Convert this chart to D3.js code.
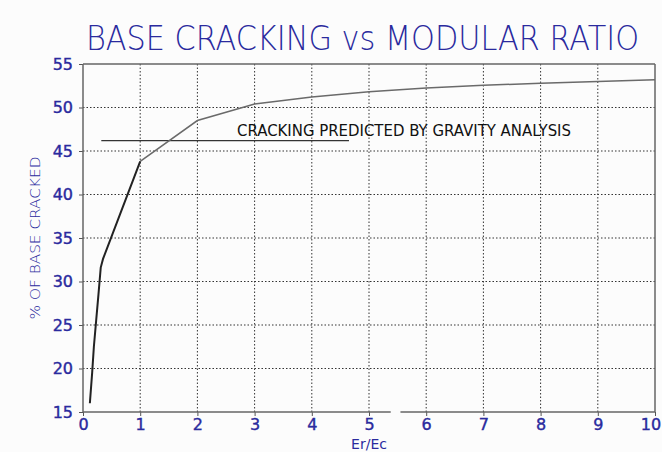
<!DOCTYPE html>
<html lang="en">
<head>
<meta charset="UTF-8">
<title>Base Cracking vs Modular Ratio</title>
<script src="https://cdn.jsdelivr.net/npm/d3@7"></script>
<style>
  body { margin: 0; background: #fcfcfc; }
  text { font-family: "DejaVu Sans", sans-serif; }
</style>
</head>
<body>
<div id="chart"></div>
<script>
// data
var ratioSteep = [0.12, 0.16, 0.19, 0.23, 0.27, 0.31, 0.35, 1.0];
var crackSteep = [16.0, 19.5, 22.5, 25.5, 28.5, 31.6, 32.6, 43.8];
var ratioFlat = [1, 2, 3, 4, 5, 6, 7, 8, 9, 10];
var crackFlat = [43.8, 48.5, 50.4, 51.2, 51.8, 52.25, 52.55, 52.8, 53.0, 53.2];
var xTicks = [0, 1, 2, 3, 4, 5, 6, 7, 8, 9, 10];
var yTicks = [15, 20, 25, 30, 35, 40, 45, 50, 55];
var gravityLevel = 46.2;
var gravityFrom = 0.32, gravityTo = 4.65;
var gravityLabel = "CRACKING PREDICTED BY GRAVITY ANALYSIS";

var width = 662, height = 452;
var margin = {top: 64, right: 7, bottom: 40, left: 83};
var blue = "#2a2a9e";

var svg = d3.select("#chart").append("svg")
    .attr("width", width)
    .attr("height", height);

var x = d3.scaleLinear().domain([0, 10]).range([margin.left, width - margin.right]);
var y = d3.scaleLinear().domain([15, 55]).range([height - margin.bottom, margin.top]);

// title (tall, narrow lettering)
svg.append("text")
    .attr("transform", "translate(86,50) scale(1,1.18)")
    .attr("textLength", 553)
    .attr("lengthAdjust", "spacingAndGlyphs")
    .style("font-size", "28px")
    .style("font-weight", "200")
    .style("fill", blue)
    .text("BASE CRACKING vs MODULAR RATIO");

// dotted grid
svg.append("g").selectAll("line")
    .data(xTicks.slice(1, -1)).enter().append("line")
    .attr("x1", function(d){ return x(d); }).attr("x2", function(d){ return x(d); })
    .attr("y1", y(55)).attr("y2", y(15))
    .attr("stroke", "#333").attr("stroke-width", 1).attr("stroke-dasharray", "1.5,2");
svg.append("g").selectAll("line")
    .data(yTicks.slice(1, -1)).enter().append("line")
    .attr("x1", x(0)).attr("x2", x(10))
    .attr("y1", function(d){ return y(d); }).attr("y2", function(d){ return y(d); })
    .attr("stroke", "#333").attr("stroke-width", 1).attr("stroke-dasharray", "1.5,2");

// axes
var xAxis = svg.append("g")
    .attr("transform", "translate(0," + y(15) + ")")
    .call(d3.axisBottom(x).tickValues(xTicks).tickSize(4).tickPadding(3).tickFormat(d3.format("d")));
var yAxis = svg.append("g")
    .attr("transform", "translate(" + x(0) + ",0)")
    .call(d3.axisLeft(y).tickValues(yTicks).tickSize(4).tickPadding(6));
[xAxis, yAxis].forEach(function(a) {
    a.select(".domain").remove();
    a.selectAll(".tick line").attr("stroke", "#555");
    a.selectAll(".tick text")
        .style("fill", blue).style("stroke", blue).style("stroke-width", 0.4)
        .style("font-size", "16px").style("font-family", "DejaVu Sans, sans-serif");
});
// keep the last label inside the window
xAxis.selectAll(".tick text").filter(function(d){ return d === 10; })
    .attr("text-anchor", "end").attr("dx", "0.35em");

// frame, bottom edge has a small gap like the original
var frame = svg.append("g").attr("stroke", "#666").attr("stroke-width", 1.5).attr("fill", "none");
frame.append("line").attr("x1", x(0)).attr("x2", x(10)).attr("y1", y(55)).attr("y2", y(55));
frame.append("line").attr("x1", x(0)).attr("x2", x(0)).attr("y1", y(55)).attr("y2", y(15));
frame.append("line").attr("x1", x(10)).attr("x2", x(10)).attr("y1", y(55)).attr("y2", y(15));
frame.append("line").attr("x1", x(0)).attr("x2", x(5.38)).attr("y1", y(15)).attr("y2", y(15));
frame.append("line").attr("x1", x(5.55)).attr("x2", x(10)).attr("y1", y(15)).attr("y2", y(15));

// gravity analysis line and label
svg.append("line")
    .attr("x1", x(gravityFrom)).attr("x2", x(gravityTo))
    .attr("y1", y(gravityLevel)).attr("y2", y(gravityLevel))
    .attr("stroke", "#333").attr("stroke-width", 1.3);
svg.append("text")
    .attr("x", 237).attr("y", 136)
    .attr("textLength", 334)
    .attr("lengthAdjust", "spacingAndGlyphs")
    .style("font-size", "15px")
    .style("fill", "#111")
    .text(gravityLabel);

// curve
var line = d3.line()
    .x(function(d){ return x(d[0]); })
    .y(function(d){ return y(d[1]); });
svg.append("path")
    .datum(d3.zip(ratioFlat, crackFlat))
    .attr("d", line)
    .attr("fill", "none").attr("stroke", "#6a6a6a").attr("stroke-width", 1.5);
svg.append("path")
    .datum(d3.zip(ratioSteep, crackSteep))
    .attr("d", line)
    .attr("fill", "none").attr("stroke", "#222").attr("stroke-width", 2);

// axis titles
svg.append("text")
    .attr("x", x(5)).attr("y", 449)
    .attr("text-anchor", "middle")
    .style("font-size", "14px")
    .style("fill", blue)
    .text("Er/Ec");
svg.append("text")
    .attr("transform", "translate(40," + 238 + ") rotate(-90)")
    .attr("text-anchor", "middle")
    .attr("textLength", 163)
    .attr("lengthAdjust", "spacingAndGlyphs")
    .style("font-size", "14px")
    .style("font-weight", "300")
    .style("fill", blue)
    .text("% OF BASE CRACKED");
</script>
</body>
</html>
